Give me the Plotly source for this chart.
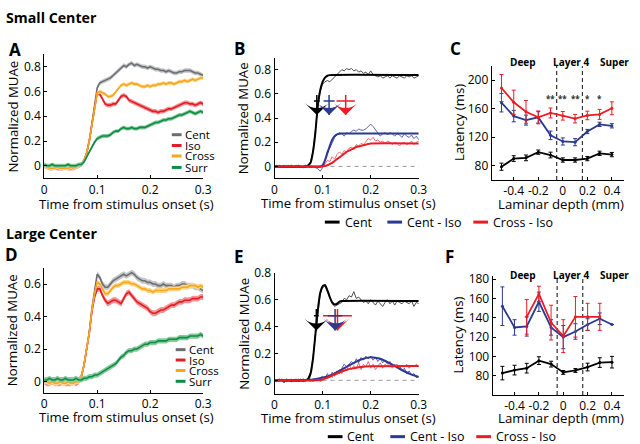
import plotly.graph_objects as go

# ---------------- data ----------------
T = [round(i * 0.005, 3) for i in range(61)]

# Panel A (Small Center) population MUAe
A_CENT = [0.00,-0.01,-0.01,0.00,-0.01,-0.01,-0.01,-0.01,-0.01,-0.01,-0.01,-0.01,-0.01,0.00,0.01,
          0.04,0.10,0.20,0.34,0.49,0.63, 0.67,0.68,0.69,0.70,0.71,0.73,0.75,0.77,0.79,0.81,
          0.80,0.82,0.83,0.81,0.82,0.81,0.80,0.80,0.79,0.80, 0.79,0.78,0.78,0.77,0.77,0.76,0.77,0.76,0.75,0.75,
          0.76,0.76,0.77,0.77,0.77,0.76,0.75,0.75,0.74,0.73]
A_ISO = [0.00,-0.01,-0.02,-0.02,-0.01,-0.02,-0.02,-0.02,-0.01,-0.02,-0.02,-0.02,-0.01,0.00,0.01,
         0.04,0.10,0.20,0.33,0.47,0.59, 0.58,0.54,0.50,0.49,0.49,0.50,0.50,0.53,0.56,0.57,
         0.56,0.53,0.52,0.51,0.50,0.49,0.48,0.47,0.46,0.45, 0.44,0.44,0.43,0.44,0.44,0.45,0.46,0.46,0.47,0.48,
         0.49,0.50,0.51,0.51,0.50,0.50,0.49,0.50,0.51,0.50]
A_CROSS = [0.00,-0.01,-0.02,-0.02,-0.02,-0.01,-0.02,-0.02,-0.02,-0.02,-0.01,-0.02,-0.01,0.00,0.01,
           0.04,0.10,0.20,0.33,0.47,0.59, 0.60,0.59,0.58,0.56,0.56,0.57,0.60,0.63,0.65,0.66,
           0.65,0.66,0.67,0.66,0.66,0.65,0.64,0.64,0.65,0.64, 0.65,0.65,0.66,0.66,0.67,0.66,0.67,0.67,0.66,0.67,
           0.68,0.68,0.69,0.68,0.69,0.70,0.69,0.70,0.71,0.71]
A_SURR = [0.01,0.00,0.00,0.01,0.00,0.00,0.00,0.00,0.00,0.01,0.00,0.00,0.00,0.01,0.01,
          0.03,0.07,0.12,0.16,0.19,0.22, 0.23,0.24,0.24,0.24,0.25,0.27,0.28,0.28,0.30,0.31,
          0.30,0.30,0.31,0.30,0.30,0.31,0.31,0.31,0.32,0.33, 0.34,0.35,0.35,0.36,0.37,0.37,0.38,0.38,0.39,0.40,
          0.41,0.41,0.42,0.43,0.44,0.43,0.42,0.43,0.44,0.43]

# Panel D (Large Center)
D_CENT = [0.01,0.01,0.00,0.01,0.01,0.00,0.01,0.01,0.00,0.01,0.01,0.01,0.01,0.01,0.03,
          0.10,0.20,0.30,0.45,0.56,0.66, 0.64,0.60,0.58,0.58,0.60,0.62,0.63,0.64,0.65,0.66,
          0.65,0.66,0.67,0.66,0.64,0.63,0.62,0.62,0.61,0.61, 0.60,0.60,0.59,0.59,0.60,0.59,0.59,0.59,0.58,0.59,
          0.59,0.60,0.60,0.59,0.59,0.59,0.58,0.58,0.57,0.56]
D_ISO = [0.00,-0.01,-0.01,0.00,-0.01,-0.01,-0.01,0.00,-0.01,-0.01,-0.01,0.00,-0.01,0.00,0.03,
         0.10,0.20,0.30,0.43,0.52,0.57, 0.57,0.53,0.50,0.48,0.49,0.50,0.50,0.49,0.48,0.51,
         0.54,0.55,0.53,0.51,0.49,0.48,0.47,0.46,0.45,0.43, 0.42,0.42,0.43,0.44,0.44,0.45,0.46,0.47,0.47,0.48,
         0.49,0.49,0.50,0.50,0.50,0.51,0.51,0.51,0.52,0.52]
D_CROSS = [0.00,0.00,-0.01,0.00,-0.01,-0.01,0.00,-0.01,-0.01,0.00,-0.01,-0.01,0.00,0.00,0.03,
           0.10,0.20,0.30,0.44,0.54,0.61, 0.60,0.57,0.54,0.54,0.56,0.58,0.59,0.59,0.60,0.61,
           0.61,0.61,0.60,0.60,0.59,0.58,0.57,0.57,0.56,0.56, 0.55,0.56,0.56,0.56,0.56,0.56,0.57,0.57,0.57,0.57,
           0.57,0.58,0.58,0.58,0.59,0.59,0.59,0.58,0.59,0.58]
D_SURR = [0.01,0.01,0.02,0.01,0.01,0.02,0.01,0.01,0.02,0.01,0.01,0.01,0.02,0.01,0.01,
          0.02,0.02,0.03,0.03,0.04,0.04, 0.05,0.06,0.07,0.08,0.09,0.10,0.11,0.13,0.15,0.16,
          0.18,0.19,0.19,0.20,0.20,0.21,0.22,0.23,0.23,0.24, 0.24,0.24,0.25,0.25,0.25,0.25,0.26,0.26,0.26,0.26,
          0.27,0.27,0.27,0.27,0.28,0.28,0.28,0.28,0.29,0.28]
SEM_AD = [0.018, 0.018, 0.015, 0.016]   # Cent, Iso, Cross, Surr

# Panel B (example site, small center): raw traces and fits
B_CENT_RAW = [0.00,0.01,-0.01,0.00,0.01,-0.01,0.00,0.01,0.00,-0.01,0.01,0.00,-0.01,0.00,
              0.01,0.04,0.13,0.30,0.50,0.62,
              0.68,0.70,0.71,0.70,0.72,0.74,0.76,0.78,0.80,0.79,
              0.81,0.80,0.81,0.79,0.80,0.78,0.79,0.77,0.78,0.76,
              0.79,0.76,0.75,0.74,0.75,0.73,0.74,0.75,0.73,0.75,
              0.74,0.73,0.75,0.74,0.73,0.75,0.74,0.75,0.73,0.74,0.75]
B_CI_RAW = [0.00,-0.01,0.01,0.00,-0.01,0.00,0.01,-0.01,0.00,0.01,0.00,-0.01,0.00,0.01,0.00,-0.01,0.00,
            -0.01,-0.02,-0.04,
            -0.01,0.05,0.13,0.15,0.20,0.24,0.26,0.28,0.27,0.25,
            0.28,0.27,0.29,0.30,0.29,0.31,0.30,0.30,0.31,0.33,
            0.35,0.33,0.30,0.28,0.25,0.27,0.28,0.26,0.28,0.27,
            0.25,0.27,0.26,0.24,0.27,0.25,0.24,0.26,0.23,0.25,0.22]
B_XI_RAW = [0.00,0.01,0.00,-0.01,0.00,0.01,0.00,0.00,-0.01,0.00,0.01,0.00,-0.01,0.00,0.00,0.01,0.00,
            0.00,-0.01,-0.01,
            0.00,0.02,0.05,0.04,0.08,0.06,0.10,0.12,0.10,0.13,
            0.12,0.15,0.16,0.14,0.18,0.17,0.19,0.18,0.21,0.23,
            0.22,0.24,0.21,0.22,0.20,0.21,0.19,0.21,0.20,0.18,
            0.20,0.19,0.17,0.19,0.20,0.18,0.19,0.21,0.18,0.20,0.21]
B_CENT_FIT_T = [0, 0.065, 0.07, 0.075, 0.08, 0.085, 0.09, 0.095, 0.1, 0.105, 0.11, 0.115, 0.3]
B_CENT_FIT = [0, 0, 0.01, 0.03, 0.12, 0.28, 0.50, 0.63, 0.70, 0.735, 0.75, 0.755, 0.755]
B_CI_FIT_T = [0, 0.095, 0.1, 0.105, 0.11, 0.115, 0.12, 0.125, 0.13, 0.135, 0.14, 0.3]
B_CI_FIT = [0, 0.0, 0.01, 0.05, 0.11, 0.17, 0.22, 0.25, 0.265, 0.27, 0.272, 0.272]
B_XI_FIT_T = [0, 0.1, 0.105, 0.11, 0.115, 0.12, 0.125, 0.13, 0.135, 0.14, 0.145, 0.15,
              0.155, 0.16, 0.165, 0.17, 0.175, 0.18, 0.185, 0.19, 0.195, 0.2, 0.3]
B_XI_FIT = [0, 0.0, 0.005, 0.01, 0.02, 0.03, 0.045, 0.06, 0.075, 0.09, 0.105, 0.12,
            0.13, 0.14, 0.15, 0.16, 0.165, 0.17, 0.175, 0.18, 0.185, 0.19, 0.19]
B_LAT = [0.088, 0.1135, 0.148]
B_LAT_ERR = [0.006, 0.0115, 0.019]

# Panel E (example site, large center)
E_CENT_RAW = [0.00,-0.01,0.01,0.00,-0.01,0.01,0.00,-0.01,0.00,0.01,-0.01,0.00,0.01,0.00,
              0.02,0.06,0.17,0.34,0.51,0.64,
              0.69,0.70,0.66,0.61,0.57,0.55,0.56,0.57,0.58,0.61,
              0.60,0.63,0.62,0.66,0.61,0.62,0.60,0.58,0.59,0.57,
              0.60,0.58,0.56,0.59,0.57,0.55,0.58,0.60,0.57,0.59,
              0.56,0.59,0.58,0.57,0.59,0.58,0.57,0.59,0.55,0.58,0.57]
E_CI_RAW = [0.00,-0.01,0.01,0.00,-0.02,0.01,0.00,-0.01,0.01,-0.01,0.00,0.01,-0.01,0.00,
            0.00,0.01,-0.01,0.01,0.00,0.02,
            0.03,0.01,0.05,0.02,0.06,0.03,0.07,0.05,0.09,0.12,
            0.10,0.12,0.14,0.12,0.16,0.13,0.17,0.15,0.18,0.16,
            0.18,0.15,0.17,0.14,0.16,0.13,0.15,0.12,0.14,0.10,
            0.12,0.09,0.11,0.07,0.09,0.05,0.07,0.04,0.05,0.02,0.03]
E_XI_RAW = [0.01,0.00,-0.01,0.01,0.00,-0.01,0.00,0.01,-0.01,0.00,0.01,0.00,-0.01,0.01,
            0.00,-0.01,0.01,0.00,0.01,-0.01,
            0.00,0.03,0.01,0.04,0.02,0.06,0.04,0.08,0.05,0.10,
            0.07,0.12,0.08,0.11,0.09,0.13,0.08,0.12,0.10,0.14,
            0.09,0.12,0.08,0.11,0.13,0.09,0.12,0.10,0.13,0.09,
            0.11,0.12,0.09,0.11,0.10,0.12,0.09,0.11,0.10,0.12,0.10]
E_CENT_FIT_T = [0, 0.065, 0.07, 0.075, 0.08, 0.085, 0.09, 0.095, 0.1, 0.105, 0.11, 0.115,
                0.12, 0.125, 0.13, 0.135, 0.14, 0.3]
E_CENT_FIT = [0, 0, 0.01, 0.05, 0.16, 0.34, 0.52, 0.65, 0.70, 0.71, 0.67, 0.62,
              0.58, 0.565, 0.57, 0.585, 0.59, 0.59]
E_CI_FIT_T = [0, 0.065, 0.08, 0.1, 0.12, 0.14, 0.16, 0.18, 0.2, 0.22, 0.24, 0.26, 0.28, 0.3]
E_CI_FIT = [0, 0, 0.007, 0.02, 0.042, 0.08, 0.12, 0.155, 0.172, 0.16, 0.126, 0.086, 0.05, 0.025]
E_XI_FIT_T = [0, 0.09, 0.1, 0.11, 0.12, 0.13, 0.14, 0.15, 0.16, 0.17, 0.18, 0.19, 0.2, 0.3]
E_XI_FIT = [0, 0, 0.006, 0.02, 0.036, 0.052, 0.066, 0.078, 0.087, 0.094, 0.099, 0.103, 0.105, 0.107]
E_LAT = [0.087, 0.126, 0.131]
E_LAT_ERR = [0.005, 0.015, 0.03]

# Panels C and F: latency vs laminar depth
DEPTH = [-0.5, -0.4, -0.3, -0.2, -0.1, 0.0, 0.1, 0.2, 0.3, 0.4]
C_CENT = [78.6, 90, 91, 99, 95, 88, 88, 90, 97.4, 95.6]
C_CENT_ERR = [5, 4, 4, 3, 4, 3, 3, 3, 3, 3]
C_CI = [168.4, 149.6, 144, 147.8, 122.6, 114, 113, 128, 138, 136]
C_CI_ERR = [13, 8, 7, 8, 6, 5, 5, 3, 3, 3]
C_XI = [189, 169, 155.6, 147.8, 154, 150, 146, 150.5, 152, 160.6]
C_XI_ERR = [19, 17, 16, 9, 7, 6, 6, 6, 7, 9]
C_STARS_X = [-0.1, 0.0, 0.1, 0.2, 0.3]
C_STARS = ["**", "**", "**", "*", "*"]

F_CENT = [82.7, 85.8, 87.8, 95.6, 92, 83.4, 85.4, 89, 93.6, 94]
F_CENT_ERR = [7, 5, 5, 4, 3, 2, 2, 4, 5, 6]
F_CI = [152, 130, 131, 156.6, 130, 120, 125.8, 133, 139, 133]
F_CI_ERR = [20, 8, 10, 10, 8, 12, 8, 6, 6, 0]
F_XI = [None, None, 141, 164.7, 135, 121, 141, 141, 141, None]
F_XI_ERR = [0, 0, 18, 8, 18, 17, 21, 14, 14, 0]

LAYER_BOUNDS = [-0.05, 0.16]

# ---------------- styling ----------------
W, H = 640, 444
FONT = "Open Sans"
GRAY, GRAY_B = "#6d6e71", "#c4c5c7"
RED, RED_B = "#e31d25", "#f39396"
ORNG, ORNG_B = "#f8a61c", "#fdd68c"
GREEN, GREEN_B = "#0d8c44", "#86c99a"
BLACK, BLUE, RED2 = "#000000", "#2b3990", "#ed1c24"
TICK_SIZE = 12
TITLE_SIZE = 13.2


def px(x):
    return x / W


def py(y):
    return 1 - y / H


fig = go.Figure()


def axis(domain, rng, tickvals, ticktext, anchor):
    return dict(domain=domain, range=rng, tickvals=tickvals, ticktext=ticktext,
                anchor=anchor, showline=True, linecolor="black", linewidth=1,
                ticks="inside", ticklen=3, tickcolor="black", showgrid=False,
                zeroline=False, fixedrange=True,
                tickfont=dict(family=FONT, size=TICK_SIZE, color="black"))


tx = [0, 0.1, 0.2, 0.3]
txt = ["0", "0.1", "0.2", "0.3"]
dx = [-0.4, -0.2, 0, 0.2, 0.4]
dxt = ["-0.4", "-0.2", "0", "0.2", "0.4"]

layout_axes = dict(
    xaxis=axis([42 / W, 204 / W], [0, 0.3], tx, txt, "y"),
    yaxis=axis([py(172.6), py(46.4)], [-0.1, 0.9], [0, 0.2, 0.4, 0.6, 0.8],
               ["0", "0.2", "0.4", "0.6", "0.8"], "x"),
    xaxis2=axis([276.7 / W, 423.7 / W], [0, 0.3], tx, txt, "y2"),
    yaxis2=axis([py(173), py(49.6)], [-0.1, 0.9], [0, 0.2, 0.4, 0.6, 0.8],
                ["0", "0.2", "0.4", "0.6", "0.8"], "x2"),
    xaxis3=axis([498 / W, 633 / W], [-0.58, 0.5], dx, dxt, "y3"),
    yaxis3=axis([py(174.5), py(58.1)], [60, 220], [80, 120, 160, 200],
                ["80", "120", "160", "200"], "x3"),
    xaxis4=axis([42 / W, 204 / W], [0, 0.3], tx, txt, "y4"),
    yaxis4=axis([py(391.9), py(264.1)], [-0.07, 0.7], [0, 0.2, 0.4, 0.6],
                ["0", "0.2", "0.4", "0.6"], "x4"),
    xaxis5=axis([276.7 / W, 423.7 / W], [0, 0.3], tx, txt, "y5"),
    yaxis5=axis([py(392.7), py(269.3)], [-0.1, 0.8], [0, 0.2, 0.4, 0.6, 0.8],
                ["0", "0.2", "0.4", "0.6", "0.8"], "x5"),
    xaxis6=axis([499 / W, 633 / W], [-0.58, 0.5], dx, dxt, "y6"),
    yaxis6=axis([py(394), py(272.8)], [60, 183], [80, 100, 120, 140, 160, 180],
                ["80", "100", "120", "140", "160", "180"], "x6"),
)


# --- population panels with SEM bands ---
def pop_panel(series, xa, ya):
    colors = [(GRAY, GRAY_B), (RED, RED_B), (ORNG, ORNG_B), (GREEN, GREEN_B)]
    for vals, sem, (lc, bc) in zip(series, SEM_AD, colors):
        up = [v + sem for v in vals]
        lo = [v - sem for v in vals]
        fig.add_trace(go.Scatter(x=T + T[::-1], y=up + lo[::-1], fill="toself",
                                 fillcolor=bc, line=dict(width=0), mode="lines",
                                 hoverinfo="skip", showlegend=False, xaxis=xa, yaxis=ya))
        fig.add_trace(go.Scatter(x=T, y=vals, mode="lines", line=dict(color=lc, width=1.6),
                                 showlegend=False, xaxis=xa, yaxis=ya))


pop_panel([A_CENT, A_ISO, A_CROSS, A_SURR], "x", "y")
pop_panel([D_CENT, D_ISO, D_CROSS, D_SURR], "x4", "y4")


# --- example-site panels ---
def site_panel(raws, fits, lats, lat_errs, xa, ya, arrow):
    top, bar, tip = arrow
    fig.add_trace(go.Scatter(x=[0, 0.3], y=[0, 0], mode="lines",
                             line=dict(color="#9a9a9a", width=1, dash="4px,4px"),
                             showlegend=False, xaxis=xa, yaxis=ya))
    cols = [BLACK, BLUE, RED2]
    rawcols = ["#3a3a3a", "#4a55a8", "#f0575c"]
    for vals, c in zip(raws, rawcols):
        fig.add_trace(go.Scatter(x=T, y=vals, mode="lines", line=dict(color=c, width=0.9),
                                 showlegend=False, xaxis=xa, yaxis=ya))
    for (ft, fv), c in zip(fits, cols):
        fig.add_trace(go.Scatter(x=ft, y=fv, mode="lines",
                                 line=dict(color=c, width=2, shape="spline", smoothing=0.5),
                                 showlegend=False, xaxis=xa, yaxis=ya))
    order = [0, 2, 1]
    for i in order:
        c, lat, err = cols[i], lats[i], lat_errs[i]
        fig.add_trace(go.Scatter(x=[lat - err, lat + err], y=[bar, bar], mode="lines",
                                 line=dict(color=c, width=1.5), showlegend=False,
                                 xaxis=xa, yaxis=ya))
        fig.add_trace(go.Scatter(x=[lat, lat], y=[top, tip], mode="lines",
                                 line=dict(color=c, width=1.5), showlegend=False,
                                 xaxis=xa, yaxis=ya))
        fig.add_trace(go.Scatter(x=[lat], y=[tip], mode="markers",
                                 marker=dict(symbol="arrow-wide", angle=180, size=17,
                                             color=c, line=dict(width=0)),
                                 showlegend=False, xaxis=xa, yaxis=ya))


site_panel([B_CENT_RAW, B_CI_RAW, B_XI_RAW],
           [(B_CENT_FIT_T, B_CENT_FIT), (B_CI_FIT_T, B_CI_FIT), (B_XI_FIT_T, B_XI_FIT)],
           B_LAT, B_LAT_ERR, "x2", "y2", (0.59, 0.54, 0.425))
site_panel([E_CENT_RAW, E_CI_RAW, E_XI_RAW],
           [(E_CENT_FIT_T, E_CENT_FIT), (E_CI_FIT_T, E_CI_FIT), (E_XI_FIT_T, E_XI_FIT)],
           E_LAT, E_LAT_ERR, "x5", "y5", (0.53, 0.48, 0.37))


# --- laminar latency panels ---
def lam_panel(series, xa, ya, ymin, ymax):
    for b in LAYER_BOUNDS:
        fig.add_trace(go.Scatter(x=[b, b], y=[ymin, ymax], mode="lines",
                                 line=dict(color="#333333", width=1.2, dash="4px,3px"),
                                 showlegend=False, xaxis=xa, yaxis=ya))
    for vals, errs, c in series:
        fig.add_trace(go.Scatter(x=DEPTH, y=vals, mode="lines+markers",
                                 line=dict(color=c, width=1.8),
                                 marker=dict(size=3, color=c),
                                 error_y=dict(type="data", array=errs, color=c,
                                              thickness=1, width=2),
                                 showlegend=False, xaxis=xa, yaxis=ya))


lam_panel([(C_CENT, C_CENT_ERR, BLACK), (C_CI, C_CI_ERR, BLUE), (C_XI, C_XI_ERR, RED2)],
          "x3", "y3", 60, 220)
lam_panel([(F_CENT, F_CENT_ERR, BLACK), (F_CI, F_CI_ERR, BLUE), (F_XI, F_XI_ERR, RED2)],
          "x6", "y6", 60, 183)

# ---------------- texts ----------------
ann = []


def text(x, y, s, size=TITLE_SIZE, bold=False, angle=0, xanchor="center", color="black"):
    ann.append(dict(x=px(x), y=py(y), xref="paper", yref="paper", text=s,
                    showarrow=False, xanchor=xanchor, yanchor="middle",
                    textangle=angle,
                    font=dict(family=FONT, size=size, color=color,
                              weight="bold" if bold else "normal")))


text(1, 9, "Small Center", size=14.2, bold=True, xanchor="left")
text(1, 229, "Large Center", size=14.2, bold=True, xanchor="left")
for lab, x, y in [("A", 12.5, 41), ("B", 241, 40), ("C", 461, 40),
                  ("D", 9, 251), ("E", 240.5, 253), ("F", 455.5, 253)]:
    text(x, y, lab, size=17, bold=True)

# axis titles
for x, y in [(126, 199), (352, 198), (126, 416), (352, 417)]:
    text(x, y, "Time from stimulus onset (s)")
for x, y in [(569, 199), (569, 417)]:
    text(x, y, "Laminar depth (mm)")
for x, y in [(10, 110), (244, 111), (10, 328), (246, 331)]:
    text(x, y, "Normalized MUAe", angle=-90)
for x, y in [(464, 116), (464, 333)]:
    text(x, y, "Latency (ms)", angle=-90)

# layer labels
for y in [54, 271.7]:
    text(530, y, "Deep", size=10, bold=True)
    text(579, y, "Layer 4", size=10, bold=True)
    text(623, y, "Super", size=10, bold=True)

# significance stars (panel C)
for sx, s in zip(C_STARS_X, C_STARS):
    ann.append(dict(x=sx, y=174, xref="x3", yref="y3", text=s, showarrow=False,
                    xanchor="center", yanchor="middle",
                    font=dict(family=FONT, size=8, color="#333333", weight="bold")))

# legends (manual)
shapes = []


def leg_line(x0, x1, y, c, w=3):
    shapes.append(dict(type="line", xref="paper", yref="paper", x0=px(x0), x1=px(x1),
                       y0=py(y), y1=py(y), line=dict(color=c, width=w)))


for names, ybase, xl in [(["Cent", "Iso", "Cross", "Surr"], [128.3, 139.3, 150, 161.7], 172),
                         (["Cent", "Iso", "Cross", "Surr"], [347.7, 358.3, 369, 380], 176)]:
    for nm, yy, c in zip(names, ybase, [GRAY, RED, ORNG, GREEN]):
        leg_line(xl, xl + 10, yy, c, 3)
        text(xl + 11.5, yy, nm, size=11.5, xanchor="left")

for yy, dxs in [(217.5, 0), (436.5, 3)]:
    items = [("Cent", BLACK, 328), ("Cent - Iso", BLUE, 391.7), ("Cross - Iso", RED2, 479.3)]
    for nm, c, x0 in items:
        leg_line(x0 + dxs, x0 + dxs + 15, yy, c, 3)
        text(x0 + dxs + 18, yy, nm, size=12.5, xanchor="left")

fig.update_layout(
    width=W, height=H, margin=dict(l=0, r=0, t=0, b=0),
    paper_bgcolor="white", plot_bgcolor="rgba(0,0,0,0)",
    showlegend=False, annotations=ann, shapes=shapes,
    font=dict(family=FONT, color="black"),
    **layout_axes,
)

fig.write_html(
    "out.html",
    config={"displayModeBar": False},
    post_script=(
        "document.body.style.margin='0';document.body.style.overflow='hidden';"
        "var g=document.querySelector('.plotly-graph-div');"
        "g.style.position='fixed';g.style.top='0px';g.style.left='0px';"
    ),
)
